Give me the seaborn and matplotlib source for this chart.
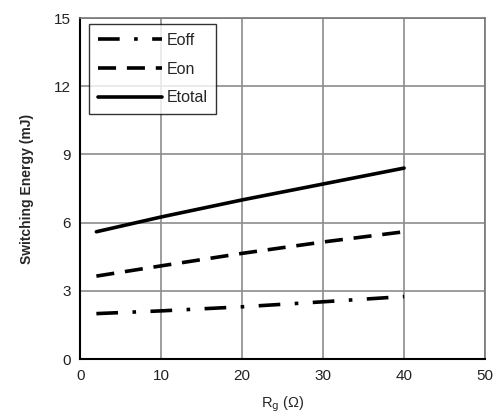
import matplotlib
matplotlib.use("Agg")
import matplotlib.pyplot as plt
import seaborn as sns
import pandas as pd

rg = [2, 10, 20, 30, 40]
eoff = [2.0, 2.12, 2.3, 2.52, 2.75]
eon = [3.65, 4.1, 4.65, 5.15, 5.6]
etotal = [5.6, 6.25, 7.0, 7.7, 8.4]

xticks = [0, 10, 20, 30, 40, 50]
yticks = [0, 3, 6, 9, 12, 15]

sns.set_style("white")
plt.rcParams['font.family'] = ['Liberation Sans', 'DejaVu Sans']

df = pd.DataFrame({"Rg": rg * 3,
                   "E": eoff + eon + etotal,
                   "series": ["Eoff"] * 5 + ["Eon"] * 5 + ["Etotal"] * 5})

fig = plt.figure(figsize=(4.98, 4.19), dpi=100)
ax = fig.add_axes([0.161, 0.143, 0.813, 0.814])

styles = {"Eoff": (0, (6, 4, 1, 4)), "Eon": (0, (5, 3)), "Etotal": "-"}
for name in ["Eoff", "Eon", "Etotal"]:
    sub = df[df.series == name]
    sns.lineplot(data=sub, x="Rg", y="E", ax=ax, color="black", lw=2.6,
                 linestyle=styles[name], label=name)

ax.set_xlim(0, 50)
ax.set_ylim(0, 15)
ax.set_xticks(xticks)
ax.set_yticks(yticks)
ax.grid(True, color="#8c8c8c", lw=1.2)
ax.tick_params(axis="both", labelsize=11, length=0, pad=7, colors="#222222")
for s in ["top", "right"]:
    ax.spines[s].set_color("#777777")
    ax.spines[s].set_linewidth(1.2)
for s in ["left", "bottom"]:
    ax.spines[s].set_color("black")
    ax.spines[s].set_linewidth(1.5)

ax.set_ylabel("Switching Energy (mJ)", fontsize=10, fontweight="bold", labelpad=14)
ax.set_xlabel("R$_{\\rm g}$ (Ω)", fontsize=10.5, labelpad=8)

leg = ax.legend(loc="upper left", bbox_to_anchor=(0.022, 0.982), fontsize=11.5,
                frameon=True, fancybox=False, edgecolor="black",
                handlelength=4.0, handletextpad=0.3, labelspacing=0.85,
                borderpad=0.55, borderaxespad=0)
leg.get_frame().set_linewidth(1.0)

fig.savefig("out.png", dpi=100)
